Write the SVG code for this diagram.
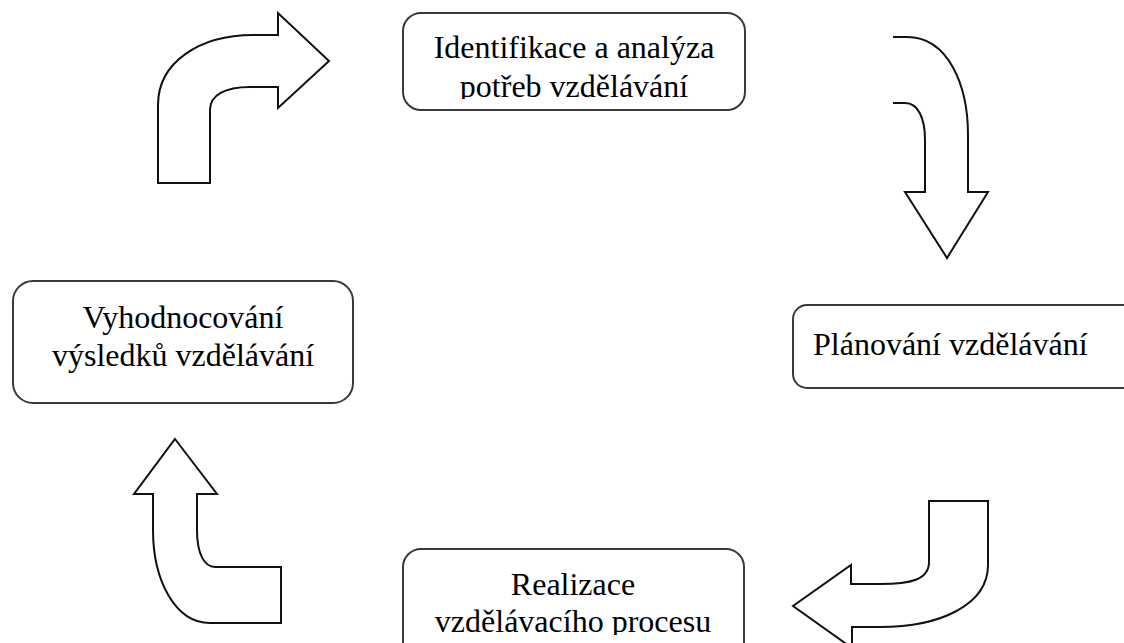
<svg xmlns="http://www.w3.org/2000/svg" width="1124" height="643" viewBox="0 0 1124 643">
<style>
.box{fill:#fff;stroke:#3a3a3a;stroke-width:2}
.arr{fill:#fff;stroke:#111;stroke-width:2;stroke-linejoin:miter}
.t{font-family:"Liberation Serif","Times New Roman",serif;font-size:32px;fill:#000}
.c{text-anchor:middle}
</style>
<defs>
<clipPath id="clipTop"><rect x="403" y="13" width="342" height="86"/></clipPath>
<clipPath id="clipBot"><rect x="403" y="549" width="342" height="86"/></clipPath>
</defs>
<rect width="1124" height="643" fill="#fff"/>
<g id="connectors">
<path class="arr" d="M158,183 L158,105 C158,62 200,35 253,35 L278,35 L278,13 L329,61 L278,108 L278,87 L250,87 C225,87 210,95 210,110 L210,183 Z"/>
<path class="arr" d="M893,37 L907,37 C948,37 968,85 968,135 L968,192 L988,192 L947,258 L905,192 L925,192 L925,140 C925,118 918,103 905,103 L893,103"/>
<path class="arr" d="M929,501 L988,501 L988,565 C988,605 940,627 880,627 L852,627 L852,648 L793,606 L851,565 L851,584 L880,584 C910,584 929,580 929,562 Z"/>
<path class="arr" d="M175,439 L217,494 L197,494 L197,530 C197,555 205,567 215,567 L281,567 L281,623 L210,623 C175,623 153,580 153,530 L153,494 L134,494 Z"/>
</g>
<g id="node-identifikace">
<rect class="box" x="403" y="13" width="342" height="97" rx="18"/>
<g clip-path="url(#clipTop)">
<text class="t c" x="574" y="58">Identifikace a analýza</text>
<text class="t c" x="574" y="97">potřeb vzdělávání</text>
</g>
</g>
<g id="node-planovani">
<rect class="box" x="793" y="305" width="400" height="83" rx="14"/>
<text class="t" x="813" y="355">Plánování vzdělávání</text>
</g>
<g id="node-realizace">
<rect class="box" x="403" y="549" width="341" height="120" rx="18"/>
<g clip-path="url(#clipBot)">
<text class="t c" x="573" y="595">Realizace</text>
<text class="t c" x="573" y="632">vzdělávacího procesu</text>
</g>
</g>
<g id="node-vyhodnocovani">
<rect class="box" x="13" y="281" width="340" height="122" rx="20"/>
<text class="t c" x="183" y="328">Vyhodnocování</text>
<text class="t c" x="183" y="366">výsledků vzdělávání</text>
</g>
</svg>
